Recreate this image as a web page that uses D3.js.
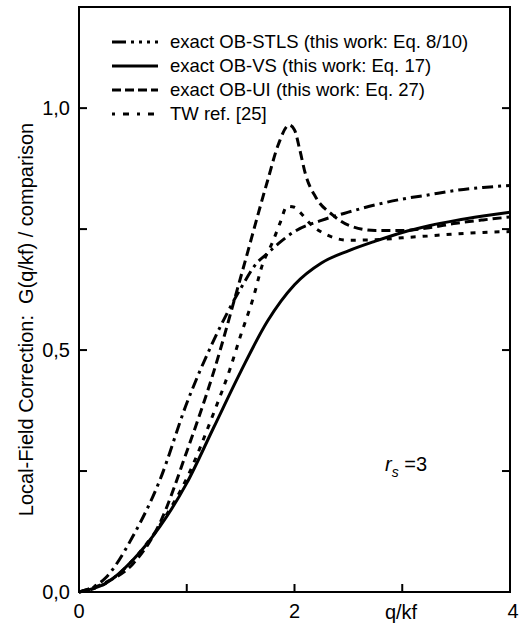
<!doctype html>
<html>
<head>
<style>
  body { margin: 0; background: #fff; }
  text { font-family: "Liberation Sans", Arial, Helvetica, sans-serif; fill: #000; }
</style>
<script src="https://d3js.org/d3.v7.min.js"></script>
</head>
<body>
<svg id="chart" width="532" height="628"></svg>
<script>
// values
var stlsQ = [0, 0.25, 0.5, 0.75, 1.0, 1.25, 1.5, 1.65, 1.75, 1.85, 2.0, 2.25, 2.5, 2.75, 3.0, 3.25, 3.5, 3.75, 4.0];
var stlsG = [0, 0.03, 0.115, 0.231, 0.39, 0.52, 0.627, 0.68, 0.70, 0.72, 0.745, 0.768, 0.785, 0.80, 0.812, 0.821, 0.83, 0.836, 0.84];

var vsQ = [0, 0.25, 0.5, 0.75, 1.0, 1.25, 1.5, 1.75, 2.0, 2.25, 2.5, 2.75, 3.0, 3.25, 3.5, 3.75, 4.0];
var vsG = [0, 0.018, 0.066, 0.135, 0.225, 0.34, 0.455, 0.56, 0.635, 0.68, 0.705, 0.725, 0.743, 0.757, 0.768, 0.777, 0.785];

var uiQ = [0, 0.25, 0.5, 0.75, 1.0, 1.25, 1.5, 1.75, 1.85, 1.95, 2.0, 2.05, 2.1, 2.2, 2.35, 2.5, 2.75, 3.0, 3.25, 3.5, 3.75, 4.0];
var uiG = [0, 0.02, 0.058, 0.142, 0.29, 0.455, 0.65, 0.85, 0.925, 0.965, 0.955, 0.913, 0.865, 0.815, 0.78, 0.758, 0.747, 0.747, 0.753, 0.762, 0.769, 0.775];

var twQ = [0, 0.25, 0.5, 0.75, 1.0, 1.25, 1.4, 1.5, 1.62, 1.7, 1.8, 1.87, 1.93, 2.0, 2.05, 2.15, 2.3, 2.5, 2.75, 3.0, 3.25, 3.5, 3.75, 4.0];
var twG = [0, 0.018, 0.066, 0.138, 0.235, 0.37, 0.46, 0.53, 0.61, 0.675, 0.725, 0.765, 0.797, 0.795, 0.785, 0.76, 0.738, 0.727, 0.728, 0.732, 0.736, 0.74, 0.743, 0.745];

var legendLabels = ["exact OB-STLS (this work: Eq. 8/10)", "exact OB-VS (this work: Eq. 17)", "exact OB-UI (this work: Eq. 27)", "TW ref. [25]"];
var yTicks = [0, 0.5, 1.0];
var yMinor = [0.25, 0.75];
var xTicks = [0, 2, 4];
var xMinor = [1, 3];

var svg = d3.select("#chart");
var pLeft = 79, pRight = 510, pTop = 7, pBottom = 592;

var x = d3.scaleLinear().domain([0, 4]).range([pLeft, pRight]);
var y = d3.scaleLinear().domain([0, 1.209]).range([pBottom, pTop]);

var series = [
  {q: stlsQ, g: stlsG, dash: "11,5,3,5", key: "14,5,3,5,3,5,3,5"},
  {q: vsQ, g: vsG, dash: null, key: null},
  {q: uiQ, g: uiG, dash: "9,5", key: "9,4"},
  {q: twQ, g: twG, dash: "5,7", key: "3,8,6,8"}
];

var line = d3.line()
  .x(function(d) { return x(d[0]); })
  .y(function(d) { return y(d[1]); })
  .curve(d3.curveMonotoneX);

svg.append("g").selectAll("path")
  .data(series)
  .enter().append("path")
  .attr("d", function(s) { return line(d3.zip(s.q, s.g)); })
  .attr("fill", "none")
  .attr("stroke", "#000")
  .attr("stroke-width", 3)
  .attr("stroke-dasharray", function(s) { return s.dash; });

// frame
svg.append("rect")
  .attr("x", pLeft).attr("y", pTop)
  .attr("width", pRight - pLeft).attr("height", pBottom - pTop)
  .attr("fill", "none").attr("stroke", "#000").attr("stroke-width", 2);

// inward ticks
var tk = svg.append("g").attr("stroke", "#000").attr("stroke-width", 2);
yTicks.concat(yMinor).forEach(function(v) {
  if (v === 0) return;
  tk.append("line").attr("x1", pLeft).attr("x2", pLeft + 8).attr("y1", y(v)).attr("y2", y(v));
  tk.append("line").attr("x1", pRight).attr("x2", pRight - 8).attr("y1", y(v)).attr("y2", y(v));
});
xTicks.concat(xMinor).forEach(function(v) {
  if (v === 0 || v === 4) return;
  tk.append("line").attr("x1", x(v)).attr("x2", x(v)).attr("y1", pBottom).attr("y2", pBottom - 8);
});

var fmt = function(v) { return d3.format(".1f")(v).replace(".", ","); };

svg.append("g").selectAll("text")
  .data(yTicks)
  .enter().append("text")
  .attr("x", pLeft - 9)
  .attr("y", function(d) { return y(d) + 7; })
  .attr("text-anchor", "end")
  .attr("font-size", 20)
  .text(fmt);

svg.append("g").selectAll("text")
  .data(xTicks)
  .enter().append("text")
  .attr("x", function(d) { return d === 4 ? x(d) + 3 : x(d); })
  .attr("y", pBottom + 26)
  .attr("text-anchor", "middle")
  .attr("font-size", 20)
  .text(function(d) { return d; });

svg.append("text")
  .attr("x", 401).attr("y", pBottom + 27)
  .attr("text-anchor", "middle")
  .attr("font-size", 20)
  .text("q/kf");

svg.append("text")
  .attr("transform", "translate(33," + ((pTop + pBottom) / 2 + 20) + ") rotate(-90)")
  .attr("text-anchor", "middle")
  .attr("font-size", 20)
  .attr("xml:space", "preserve")
  .text("Local-Field Correction:  G(q/kf) / comparison");

// r_s = 3
var rs = svg.append("text").attr("x", 385).attr("y", 471).attr("font-size", 20);
rs.append("tspan").attr("font-style", "italic").text("r");
rs.append("tspan").attr("font-style", "italic").attr("font-size", 14).attr("dy", 6).text("s");
rs.append("tspan").attr("dy", -6).text(" =3");

// legend
var lg = svg.append("g").selectAll("g")
  .data(legendLabels)
  .enter().append("g")
  .attr("transform", function(d, i) { return "translate(0," + (42 + i * 24) + ")"; });

lg.append("line")
  .attr("x1", 112).attr("x2", 158)
  .attr("stroke", "#000").attr("stroke-width", 3)
  .attr("stroke-dasharray", function(d, i) { return series[i].key; });

lg.append("text")
  .attr("x", 170).attr("y", 6)
  .attr("font-size", 18.5)
  .text(function(d) { return d; });
</script>
</body>
</html>
